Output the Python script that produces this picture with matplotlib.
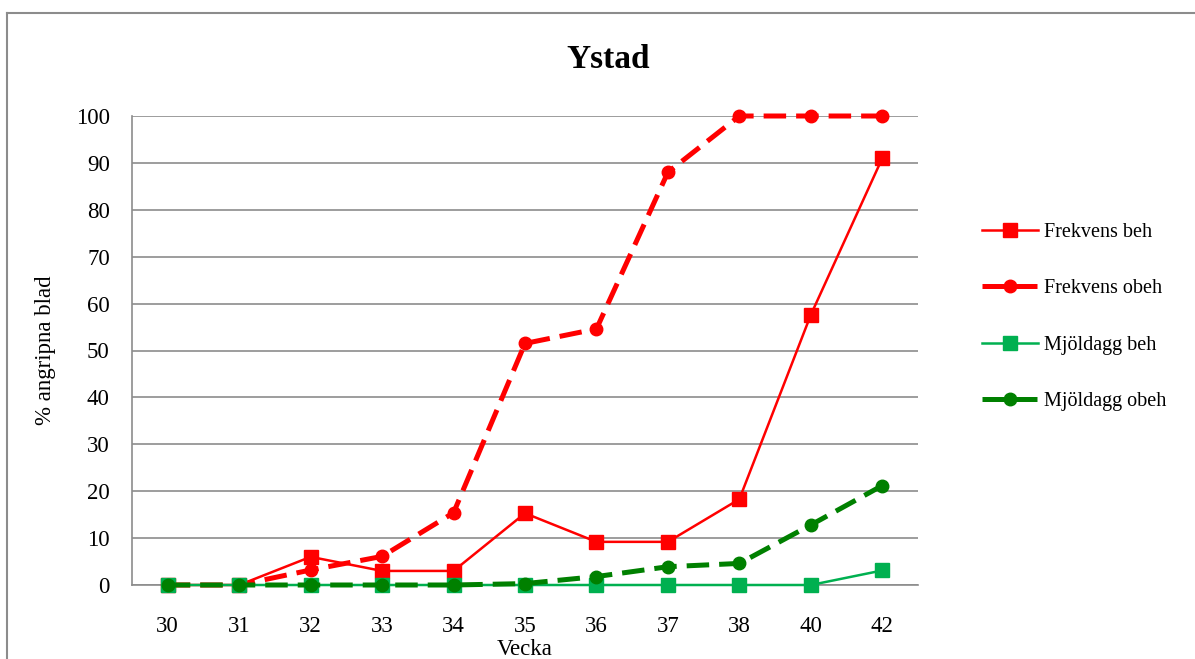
import matplotlib
matplotlib.use('Agg')
import matplotlib.pyplot as plt
from matplotlib.lines import Line2D

plt.rcParams['font.family'] = ['Liberation Serif', 'DejaVu Serif']

# veckor (kategorier, lika avstånd)
weeks = ['30', '31', '32', '33', '34', '35', '36', '37', '38', '40', '42']

frekvens_beh = [0, 0, 6, 3, 3, 15.3, 9.2, 9.2, 18.3, 57.6, 91]
frekvens_obeh = [0, 0, 3.2, 6.1, 15.4, 51.5, 54.6, 88, 100, 100, 100]
mjoldagg_beh = [0, 0, 0, 0, 0, 0, 0, 0, 0, 0, 3.1]
mjoldagg_obeh = [0, 0, 0, 0, 0, 0.3, 1.8, 3.9, 4.6, 12.8, 21.2]

fig = plt.figure(figsize=(11.95, 6.59), dpi=100)
ax = fig.add_axes([132 / 1195, 1 - 585 / 659, (918 - 132) / 1195, (585 - 116) / 659])

x = range(len(weeks))

ax.plot(x, frekvens_beh, color='#FF0000', lw=1.8, marker='s', ms=10, label='Frekvens beh', zorder=4,
        clip_on=False)
ax.plot(x, frekvens_obeh, color='#FF0000', lw=3.6, dashes=(4.5, 2), marker='o', ms=9,
        label='Frekvens obeh', zorder=3, clip_on=False)
ax.plot(x, mjoldagg_beh, color='#00B050', lw=1.8, marker='s', ms=10, label='Mjöldagg beh', zorder=4,
        clip_on=False)
ax.plot(x, mjoldagg_obeh, color='#008000', lw=3.6, dashes=(4.5, 2), marker='o', ms=9,
        label='Mjöldagg obeh', zorder=5, clip_on=False)

ax.set_xlim(-0.5, len(weeks) - 0.5)
ax.set_ylim(0, 100)
ax.set_yticks(range(0, 101, 10))
ax.set_xticks(list(x))
ax.set_xticklabels(weeks)
ax.yaxis.grid(True, color='#8c8c8c', lw=1.2)
ax.set_axisbelow(True)
for s in ['top', 'right']:
    ax.spines[s].set_visible(False)
ax.spines['left'].set_color('#8c8c8c')
ax.spines['bottom'].set_color('#8c8c8c')
ax.spines['left'].set_linewidth(1.2)
ax.spines['bottom'].set_linewidth(1.2)
ax.tick_params(axis='both', length=0, labelsize=16.5)
ax.tick_params(axis='y', pad=16)
ax.tick_params(axis='x', pad=22)

ax.set_title('Ystad', fontsize=24, fontweight='bold', pad=0, x=(608 - 132) / 786, y=(585 - 68) / 469)
ax.set_xlabel('Vecka', fontsize=16.5, labelpad=2)
ax.set_ylabel('% angripna blad', fontsize=16.5, labelpad=14)

ax.legend(loc='center left', bbox_to_anchor=(964 / 1195, 1 - 317 / 659), bbox_transform=fig.transFigure,
          frameon=False, fontsize=14.5, labelspacing=1.85, handlelength=2.75, handletextpad=0.3)

# ytterram
fig.add_artist(Line2D([7 / 1195, 7 / 1195], [0, 1 - 13 / 659], color='#8c8c8c', lw=1.5, transform=fig.transFigure))
fig.add_artist(Line2D([7 / 1195, 1], [1 - 13 / 659, 1 - 13 / 659], color='#8c8c8c', lw=1.5, transform=fig.transFigure))

fig.savefig('out.png', dpi=100)
